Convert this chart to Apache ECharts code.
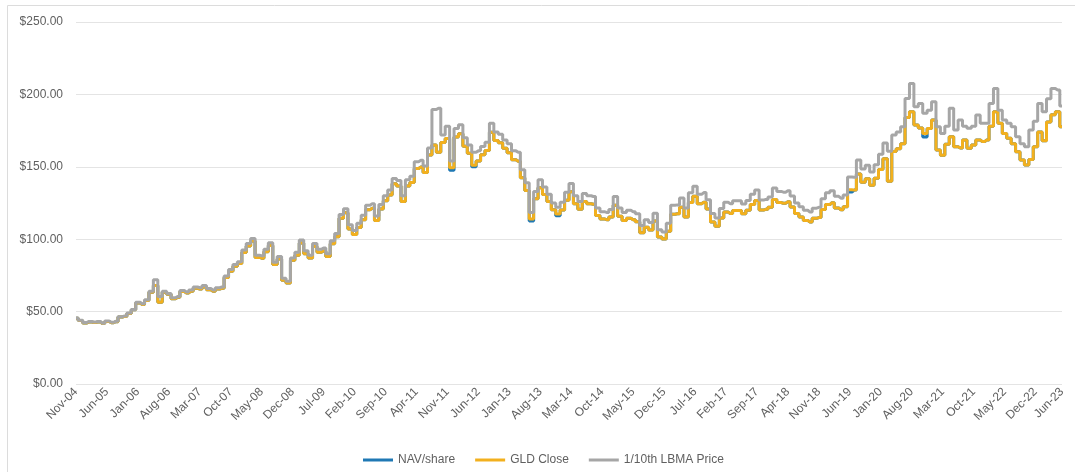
<!DOCTYPE html>
<html>
<head>
<meta charset="utf-8">
<script src="https://cdn.jsdelivr.net/npm/echarts@6/dist/echarts.min.js"></script>
<style>
html,body{margin:0;padding:0;background:#fff;}
#chart{width:1075px;height:472px;}
</style>
</head>
<body>
<div id="chart"></div>
<script>
// Month names for category labels (Nov-04 ... Jun-23, monthly)
const monthNames = ['Jan','Feb','Mar','Apr','May','Jun','Jul','Aug','Sep','Oct','Nov','Dec'];
const startYear = 2004;
const startMonthIndex = 10; // Nov

// 1/10th LBMA Price (monthly)
const lbmaTenth = [
45.5,44.0,
42.5,43.2,42.8,43.2,42.0,43.5,42.6,43.3,46.5,47.0,49.0,51.5,
56.5,55.5,58.2,64.0,72.0,60.5,64.0,62.5,59.5,60.5,64.5,63.5,
65.0,67.0,66.5,68.0,66.0,65.0,66.5,67.0,74.5,79.0,82.5,84.5,
92.5,97.0,100.5,89.0,88.5,93.0,97.5,84.0,88.0,73.0,71.0,87.0,
91.0,99.5,92.0,89.0,97.0,93.0,94.0,90.0,99.0,104.0,117.0,121.0,
110.0,106.0,111.0,116.5,123.5,124.5,116.0,124.0,130.0,134.0,142.0,140.5,
130.0,141.0,143.5,153.5,154.5,150.5,163.0,189.5,190.5,172.0,178.0,154.0,
176.5,179.0,170.0,165.0,160.0,161.0,164.0,167.0,180.0,174.0,172.5,168.5,
166.0,161.0,160.0,148.0,139.0,118.5,133.0,141.0,136.0,131.0,125.0,122.0,
125.5,132.5,138.5,130.0,126.0,131.5,130.0,129.5,121.5,119.0,118.5,120.5,
129.5,121.5,118.5,120.0,119.0,117.5,109.5,113.5,111.5,118.0,106.5,105.0,
111.0,123.5,123.7,128.5,121.5,132.0,136.5,131.0,132.2,127.2,117.8,114.6,
121.2,125.5,124.5,126.6,126.6,124.3,126.8,131.1,134.0,127.0,127.5,129.1,
135.4,133.0,132.5,133.5,129.8,125.0,122.4,120.0,118.7,121.4,122.0,127.9,
132.1,133.5,129.6,128.3,130.5,143.0,142.8,154.7,148.5,151.1,146.4,151.5,
158.7,166.5,160.8,172.0,174.0,177.7,197.1,207.5,191.5,193.8,187.0,189.0,
195.0,177.7,173.0,178.0,190.4,175.4,182.3,178.0,176.6,178.0,185.8,180.0,
180.0,193.8,204.0,189.0,182.3,180.0,177.7,170.8,166.0,163.9,175.4,181.5,
193.8,188.0,197.0,204.0,203.0,192.0
];

// GLD Close (monthly)
const gldClose = [
45.4,43.9,
42.2,42.9,42.5,42.9,41.7,43.2,42.3,43.0,46.2,46.7,48.7,51.2,
55.9,54.9,57.6,63.4,68.0,56.5,63.4,61.9,58.9,59.9,63.9,62.9,
64.1,66.1,65.6,67.0,65.1,64.1,65.6,66.1,73.5,77.9,81.3,83.3,
90.8,95.3,98.7,87.4,86.9,91.3,95.7,82.5,86.4,71.7,69.7,85.4,
89.0,97.3,90.0,87.0,94.9,91.0,91.9,88.0,96.8,101.7,114.4,118.3,
107.1,103.2,108.1,113.5,120.3,121.3,113.0,120.8,126.6,130.5,138.3,136.8,
126.1,136.8,139.2,148.9,149.9,146.0,158.1,165.0,160.0,166.8,169.5,149.4,
170.5,172.9,164.2,159.4,151.0,154.0,158.4,161.3,173.9,168.1,166.6,162.8,
159.7,154.9,153.9,142.4,133.7,114.0,128.0,135.6,130.8,126.0,120.3,117.4,
120.2,126.9,132.7,124.5,120.7,126.0,124.5,124.1,116.4,114.0,113.5,115.4,
123.5,115.9,113.0,114.5,113.5,112.1,104.5,108.3,106.4,112.6,101.6,100.2,
105.5,117.3,117.5,122.1,115.4,125.4,129.7,124.5,125.6,120.8,111.9,108.9,
114.7,118.7,117.8,119.8,119.8,117.6,120.0,124.0,126.8,120.1,120.6,122.1,
127.5,125.3,124.8,125.8,122.3,117.8,115.3,113.0,111.8,114.4,114.9,120.5,
123.9,125.2,121.6,120.3,122.4,134.1,133.9,145.1,139.3,141.7,137.3,142.1,
148.2,155.5,140.0,160.6,162.5,166.0,184.1,188.0,178.9,176.8,173.0,176.5,
182.3,161.6,158.0,165.5,170.8,163.9,163.0,168.5,162.8,165.0,168.5,167.4,
168.5,178.0,188.0,180.0,173.0,169.7,166.0,160.4,154.7,151.2,155.0,163.9,
174.0,168.0,181.0,186.0,188.0,177.7
];

// NAV/share (monthly)
const navShare = [
45.4,43.9,
42.2,42.9,42.5,42.9,41.7,43.2,42.3,43.0,46.2,46.7,48.7,51.2,
55.9,54.9,57.6,63.4,68.0,56.5,63.4,61.9,58.9,59.9,63.9,62.9,
64.1,66.1,65.6,67.0,65.1,64.1,65.6,66.1,73.5,77.9,81.3,83.3,
90.8,95.3,98.7,87.4,86.9,91.3,95.7,82.5,86.4,71.7,69.7,85.4,
89.0,97.3,90.0,87.0,94.9,91.0,91.9,88.0,96.8,101.7,114.4,118.3,
107.1,103.2,108.1,113.5,120.3,121.3,113.0,120.8,126.6,130.5,138.3,136.8,
126.1,136.8,139.2,148.9,149.9,146.0,158.1,165.0,160.0,166.8,169.5,147.6,
170.5,172.9,164.2,159.4,150.0,154.0,158.4,161.3,173.9,168.1,166.6,162.8,
159.7,154.9,153.9,142.4,133.7,112.6,128.0,135.6,130.8,126.0,120.3,116.2,
120.2,126.9,132.7,124.5,120.7,126.0,124.5,124.1,116.4,114.0,113.5,115.4,
123.5,115.9,113.0,114.5,113.5,112.1,104.5,108.3,106.4,112.6,101.6,100.2,
105.5,117.3,117.5,122.1,115.4,125.4,129.7,124.5,125.6,120.8,111.9,108.9,
114.7,118.7,117.8,119.8,119.8,117.6,120.0,124.0,126.8,120.1,120.6,122.1,
127.5,125.3,124.8,125.8,122.3,117.8,115.3,113.0,111.8,114.4,114.9,120.5,
123.9,125.2,121.6,120.3,122.4,132.6,133.9,145.1,139.3,141.7,137.3,142.1,
148.2,155.5,140.0,160.6,162.5,166.0,184.1,188.0,178.9,176.8,170.5,176.5,
182.3,161.6,158.0,165.5,170.8,163.9,163.0,168.5,162.8,165.0,168.5,167.4,
168.5,178.0,188.0,180.0,173.0,169.7,166.0,160.4,154.7,151.2,155.0,163.9,
174.0,168.0,181.0,186.0,188.0,177.7
];

const seriesNames = ['NAV/share', 'GLD Close', '1/10th LBMA Price'];
const yTicks = [0, 50, 100, 150, 200, 250];

// Build month categories
const categories = [];
for (let i = 0; i < lbmaTenth.length; i++) {
  const m = (startMonthIndex + i) % 12;
  const y = startYear + Math.floor((startMonthIndex + i) / 12);
  categories.push(monthNames[m] + '-' + String(y % 100).padStart(2, '0'));
}
const lastIdx = categories.length - 1;

const FONT = 'Liberation Sans, Arial, sans-serif';
const TXT = '#606060';

const chart = echarts.init(document.getElementById('chart'), null, {renderer: 'canvas'});
chart.setOption({
  animation: false,
  backgroundColor: '#fff',
  graphic: [{
    type: 'rect',
    shape: {x: 7.5, y: 5.5, width: 1200, height: 600},
    style: {fill: 'none', stroke: '#dcdcdc', lineWidth: 1},
    silent: true
  }],
  grid: {left: 76, right: 13, top: 22, bottom: 88},
  legend: {
    data: seriesNames,
    left: 358,
    top: 449,
    icon: 'rect',
    itemWidth: 30,
    itemHeight: 3,
    itemGap: 20,
    textStyle: {color: TXT, fontSize: 12, fontFamily: FONT}
  },
  xAxis: {
    type: 'category',
    data: categories,
    boundaryGap: false,
    axisLine: {show: false},
    axisTick: {show: false},
    splitLine: {show: false},
    axisLabel: {
      rotate: 45,
      color: TXT,
      fontSize: 12,
      fontFamily: FONT,
      margin: 6,
      interval: function (idx) { return idx % 7 === 0 || idx === lastIdx; }
    }
  },
  yAxis: {
    type: 'value',
    min: yTicks[0],
    max: yTicks[yTicks.length - 1],
    interval: 50,
    axisLine: {show: false},
    axisTick: {show: false},
    splitLine: {lineStyle: {color: '#e4e4e4', width: 1}},
    axisLabel: {
      color: TXT,
      fontSize: 12,
      fontFamily: FONT,
      margin: 13,
      formatter: function (v) { return '$' + v.toFixed(2); }
    }
  },
  series: [
    {
      name: seriesNames[0], type: 'line', data: navShare, step: 'middle',
      showSymbol: false, symbol: 'none',
      lineStyle: {color: '#1f78b4', width: 3},
      itemStyle: {color: '#1f78b4'}
    },
    {
      name: seriesNames[1], type: 'line', data: gldClose, step: 'middle',
      showSymbol: false, symbol: 'none',
      lineStyle: {color: '#f2b01e', width: 3},
      itemStyle: {color: '#f2b01e'}
    },
    {
      name: seriesNames[2], type: 'line', data: lbmaTenth, step: 'middle',
      showSymbol: false, symbol: 'none',
      lineStyle: {color: '#a6a6a6', width: 3},
      itemStyle: {color: '#a6a6a6'}
    }
  ]
});
</script>
</body>
</html>
